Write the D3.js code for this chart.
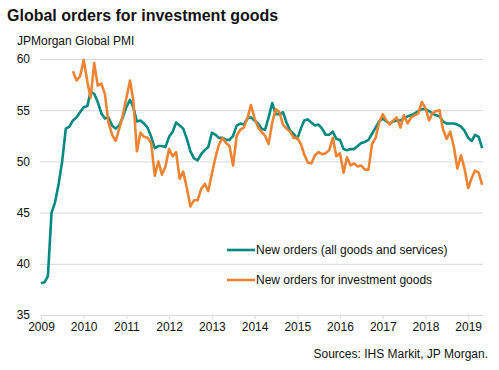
<!DOCTYPE html>
<html>
<head>
<meta charset="utf-8">
<script src="https://cdn.jsdelivr.net/npm/d3@7"></script>
<style>
	body { margin: 0; background: #fff; }
	text { font-family: "Liberation Sans", Arial, sans-serif; fill: #111; }
</style>
</head>
<body>
<svg id="chart"></svg>
<script>
	'use strict';

	// monthly values, Jan 2009 .. May 2019
	var allOrders = [
		38.1, 38.2, 38.8, 45.0, 46.0, 47.8, 50.0, 53.2, 53.4, 54.0, 54.3, 54.8,
		55.3, 55.4, 56.8, 56.6, 55.8, 54.7, 54.2, 54.3, 53.5, 53.2, 53.5, 54.3,
		55.3, 56.0, 55.3, 53.9, 54.0, 53.7, 53.3, 52.4, 51.3, 51.5, 51.5, 51.4,
		52.4, 52.9, 53.8, 53.5, 53.2, 52.2, 51.0, 50.3, 50.1, 50.7, 51.1, 51.4,
		52.8, 52.6, 52.3, 52.3, 52.1, 52.1, 52.5, 53.5, 53.7, 53.6, 54.2, 54.3,
		54.0, 53.7, 53.2, 53.1, 54.3, 55.7, 54.6, 54.6, 54.8, 53.8, 53.0, 52.7,
		52.2, 53.2, 54.0, 54.1, 53.8, 53.5, 53.6, 53.2, 52.6, 52.6, 52.9, 52.2,
		52.1, 51.2, 51.1, 51.2, 51.2, 51.5, 51.8, 51.9, 52.1, 52.7, 53.3, 53.9,
		54.2, 53.9, 53.7, 53.9, 54.0, 54.0, 54.2, 54.4, 54.5, 54.7, 54.9, 55.1,
		55.1, 54.9, 54.7, 54.5, 54.4, 53.9, 53.7, 53.7, 53.7, 53.6, 53.4, 53.0,
		52.3, 52.0, 52.6, 52.4, 51.3
	];

	var investmentOrders = [
		null, null, null, null, null, null, null, null, null, 58.8, 57.9, 58.3,
		59.9, 57.8, 56.2, 59.6, 57.4, 57.6, 56.6, 53.8, 52.6, 52.0, 53.2, 54.5,
		56.2, 57.9, 56.0, 51.0, 52.8, 52.4, 52.3, 51.8, 48.6, 50.0, 48.7, 49.5,
		51.2, 50.5, 50.9, 48.3, 49.0, 47.4, 45.6, 46.2, 46.2, 47.3, 47.8, 47.1,
		48.8, 50.4, 51.6, 52.3, 51.8, 51.5, 49.6, 52.5, 53.1, 53.3, 54.2, 55.5,
		54.2, 53.3, 52.9, 52.5, 51.7, 53.8, 55.1, 54.8, 53.6, 53.2, 52.9, 52.3,
		52.3, 51.7, 50.7, 49.9, 49.8, 50.6, 50.9, 50.7, 50.8, 51.1, 52.3, 50.5,
		50.8, 48.9, 50.4, 49.6, 49.8, 49.5, 49.6, 49.2, 49.2, 51.7, 52.3, 53.8,
		54.6, 54.0, 53.6, 54.0, 54.3, 53.3, 54.5, 53.7, 54.3, 54.5, 54.7, 55.8,
		55.2, 54.0, 54.7, 54.9, 55.0, 53.1, 52.2, 52.9, 51.4, 49.3, 50.6, 49.3,
		47.4, 48.4, 49.1, 48.9, 47.7
	];

	var months = d3.timeMonth.range(new Date(2009, 0, 1), new Date(2019, 5, 1));
	var yearTicks = [2009, 2010, 2011, 2012, 2013, 2014, 2015, 2016, 2017, 2018, 2019];
	var yTicks = [35, 40, 45, 50, 55, 60];

	var series = [
		{name: 'New orders (all goods and services)', values: allOrders, color: '#00897e'},
		{name: 'New orders for investment goods', values: investmentOrders, color: '#ee8433'}
	];

	var width = 499, height = 370;

	var x = d3.scaleTime()
		.domain([new Date(2009, 0, 1), new Date(2019, 4, 8)])
		.range([41, 483]);
	var y = d3.scaleLinear().domain([35, 60]).range([315, 59]);

	var svg = d3.select('#chart')
		.attr('width', width)
		.attr('height', height);

	// Titles
	svg.append('text')
		.attr('x', 7)
		.attr('y', 21)
		.style('font-size', '16px')
		.style('font-weight', 'bold')
		.text('Global orders for investment goods');

	svg.append('text')
		.attr('x', 17)
		.attr('y', 45)
		.style('font-size', '12px')
		.text('JPMorgan Global PMI');

	// Grid + y labels
	var yAxis = svg.append('g')
		.attr('class', 'axis_y')
		.attr('transform', 'translate(40,0)')
		.call(d3.axisLeft(y).tickValues(yTicks).tickSize(-443).tickPadding(10));
	yAxis.select('.domain').remove();
	yAxis.selectAll('line').attr('stroke', '#d9d9d9').attr('stroke-width', 1);
	yAxis.selectAll('text')
		.style('font-size', '12px')
		.style('font-family', '"Liberation Sans", Arial, sans-serif')
		.attr('fill', '#111');

	// x axis
	var xAxis = svg.append('g')
		.attr('class', 'axis_x')
		.attr('transform', 'translate(0,315)')
		.call(d3.axisBottom(x)
			.tickValues(yearTicks.map(function(yr) { return new Date(yr, 0, 1); }))
			.tickFormat(d3.timeFormat('%Y'))
			.tickSize(4)
			.tickPadding(3)
			.tickSizeOuter(0));
	xAxis.select('.domain').remove();
	xAxis.selectAll('line').attr('stroke', '#d9d9d9');
	xAxis.selectAll('text')
		.style('font-size', '12px')
		.style('font-family', '"Liberation Sans", Arial, sans-serif')
		.attr('fill', '#111');

	// Lines
	var valueline = d3.line()
		.defined(function(d) { return d.v !== null; })
		.x(function(d) { return x(d.date); })
		.y(function(d) { return y(d.v); });

	series.forEach(function(s) {
		var data = months.map(function(m, i) { return {date: m, v: s.values[i]}; });
		svg.append('path')
			.datum(data)
			.attr('fill', 'none')
			.attr('stroke', s.color)
			.attr('stroke-width', 2.6)
			.attr('stroke-linejoin', 'round')
			.attr('d', valueline);
	});

	// Legend
	var legend = svg.append('g').attr('class', 'legend');
	series.forEach(function(s, i) {
		var ly = 250 + i * 30;
		legend.append('line')
			.attr('x1', 227).attr('x2', 255)
			.attr('y1', ly).attr('y2', ly)
			.attr('stroke', s.color)
			.attr('stroke-width', 2.6);
		legend.append('text')
			.attr('x', 256)
			.attr('y', ly + 4)
			.style('font-size', '12px')
			.text(s.name);
	});

	// Source
	svg.append('text')
		.attr('x', 488)
		.attr('y', 358)
		.style('text-anchor', 'end')
		.style('font-size', '12px')
		.text('Sources: IHS Markit, JP Morgan.');
</script>
</body>
</html>
